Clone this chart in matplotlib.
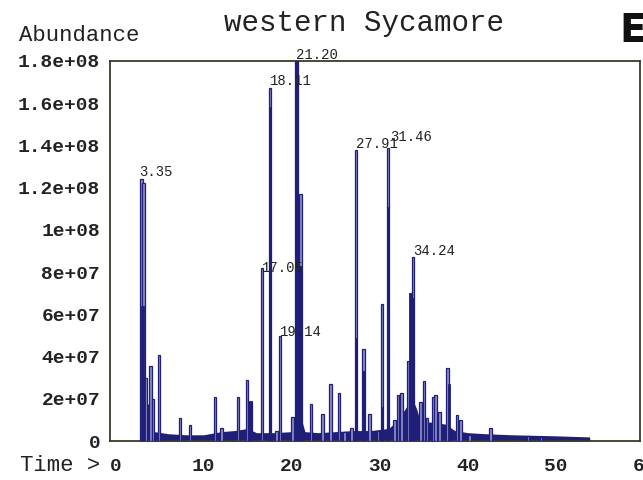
import matplotlib
matplotlib.use("Agg")
import matplotlib.pyplot as plt
from matplotlib.ticker import FixedLocator, FixedFormatter
from matplotlib.transforms import blended_transform_factory

# ---- data (retention time in min, abundance in units of 1e7) ----
peak_times = [2.95, 3.17, 3.40, 3.99, 4.25, 4.93, 7.31, 8.45, 11.28, 12.04,
              13.89, 14.94, 15.33, 16.61, 17.52, 18.28, 18.65, 20.09, 20.54, 21.00,
              22.17, 23.49, 24.43, 25.37, 26.02, 26.78, 27.32, 28.17, 28.85, 29.80,
              30.22, 30.93, 31.69, 32.06, 32.45, 33.20, 33.76, 34.60, 35.01, 35.35,
              36.11, 36.34, 36.79, 37.66, 38.75, 39.17, 40.19, 42.57, 46.80, 48.32]
peak_heights = [12.4, 12.2, 3.0, 3.55, 2.0, 4.1, 1.1, 0.75, 2.1, 0.6,
                2.1, 2.9, 1.86, 8.2, 16.7, 0.5, 5.0, 1.15, 18.0, 11.7,
                1.75, 1.28, 2.7, 2.3, 0.45, 0.6, 13.8, 4.35, 1.3, 0.5,
                6.5, 13.9, 1.0, 2.2, 2.3, 3.8, 8.7, 1.86, 2.86, 1.1,
                2.1, 2.2, 1.4, 3.45, 1.23, 1.0, 0.3, 0.63, 0.25, 0.2]

# dark (broad) cores of the major peaks
core_times = [3.05, 3.25, 15.33, 17.52, 20.54, 21.00, 27.32, 28.17, 30.22, 30.93, 33.50, 33.76, 37.85]
core_heights = [6.4, 3.1, 1.9, 15.8, 18.0, 8.3, 4.9, 3.3, 1.6, 11.1, 7.0, 6.8, 2.7]

# low baseline envelope
base_times = [2.80, 2.85, 3.40, 3.45, 4.30, 4.40, 6.0, 8.0, 10.0, 12.0, 13.5, 15.0,
              16.0, 18.0, 20.0, 20.3, 21.2, 21.5, 23.0, 25.0, 27.0, 29.0, 31.0,
              31.8, 32.5, 33.0, 33.5, 34.2, 34.6, 36.0, 37.5, 38.5, 40.0, 42.0,
              45.0, 50.0, 53.8, 53.85]
base_levels = [0.0, 3.0, 3.0, 1.7, 1.9, 0.45, 0.35, 0.3, 0.3, 0.45, 0.5, 0.6,
               0.4, 0.4, 0.45, 0.9, 0.9, 0.45, 0.4, 0.45, 0.5, 0.5, 0.6,
               0.9, 1.3, 1.6, 2.2, 1.5, 0.9, 0.9, 0.8, 0.5, 0.4, 0.35,
               0.3, 0.25, 0.2, 0.0]

labels = ["3.35", "17.05", "18.11", "21.20", "19.14", "27.91", "31.46", "34.24"]
label_times = [2.95, 16.61, 17.52, 20.54, 18.65, 27.32, 30.93, 33.76]
label_heights = [12.4, 8.2, 16.7, 18.0, 5.0, 13.8, 13.9, 8.7]

yticks = [0, 2, 4, 6, 8, 10, 12, 14, 16, 18]
ytick_labels = ["0", "2e+07", "4e+07", "6e+07", "8e+07", "1e+08",
                "1.2e+08", "1.4e+08", "1.6e+08", "1.8e+08"]
xticks = [0, 10, 20, 30, 40, 50, 60]

navy = "#1f1f7a"
light = "#8c8cc8"
ink = "#222222"
mono = "Liberation Mono"

fig = plt.figure(figsize=(6.43, 4.80), dpi=100)
ax = fig.add_axes([0.171, 0.081, 0.824, 0.792])

ax.fill_between(base_times, base_levels, 0, color=navy, lw=0, zorder=2)
ax.bar(peak_times, peak_heights, width=0.28, color=light, edgecolor=navy,
       linewidth=0.9, zorder=3)
ax.bar(core_times, core_heights, width=0.28, color=navy, edgecolor=navy,
       linewidth=0.6, zorder=4)

label_offsets = [(-0.2, 0.0), (0.0, -0.35), (0.0, 0.0), (0.0, -0.05), (0.0, -0.15),
                 (0.0, -0.05), (0.2, 0.15), (0.0, -0.05)]
for txt, t, h, (dx, dy) in zip(labels, label_times, label_heights, label_offsets):
    ax.text(t + dx, h + dy, txt, fontsize=10, family=mono,
            color=ink, ha="left", va="bottom", zorder=5)

ax.set_xlim(-0.62, 59.5)
ax.set_ylim(0, 18)
ax.yaxis.set_major_locator(FixedLocator(yticks))
ax.yaxis.set_major_formatter(FixedFormatter(ytick_labels))
ax.xaxis.set_major_locator(FixedLocator(xticks))
ax.tick_params(length=0, labelsize=14)
ax.tick_params(axis="y", pad=7)
ax.tick_params(axis="x", pad=12)
for lab in ax.get_xticklabels() + ax.get_yticklabels():
    lab.set_family(mono)
    lab.set_fontweight("bold")
    lab.set_color(ink)
# the 60 label sits at the right edge of the plot and is partly cut off
trans = blended_transform_factory(ax.transData, ax.transAxes)
ax.text(60, -0.068, "60", transform=trans, fontsize=14, family=mono,
        fontweight="bold", color=ink, ha="center", va="center", clip_on=False)
for sp in ax.spines.values():
    sp.set_color("#3a3a2a")
    sp.set_linewidth(1.3)

fig.text(0.566, 0.952, "western Sycamore", fontsize=21, family=mono,
         color=ink, ha="center", va="center")
fig.text(0.029, 0.927, "Abundance", fontsize=16, family=mono,
         color=ink, ha="left", va="center")
fig.text(0.031, 0.031, "Time >", fontsize=16, family=mono,
         color=ink, ha="left", va="center")
fig.text(0.963, 0.935, "E", fontsize=28, family="DejaVu Sans",
         fontweight="bold", color="#111111", ha="left", va="center")

fig.savefig("out.png", dpi=100)
